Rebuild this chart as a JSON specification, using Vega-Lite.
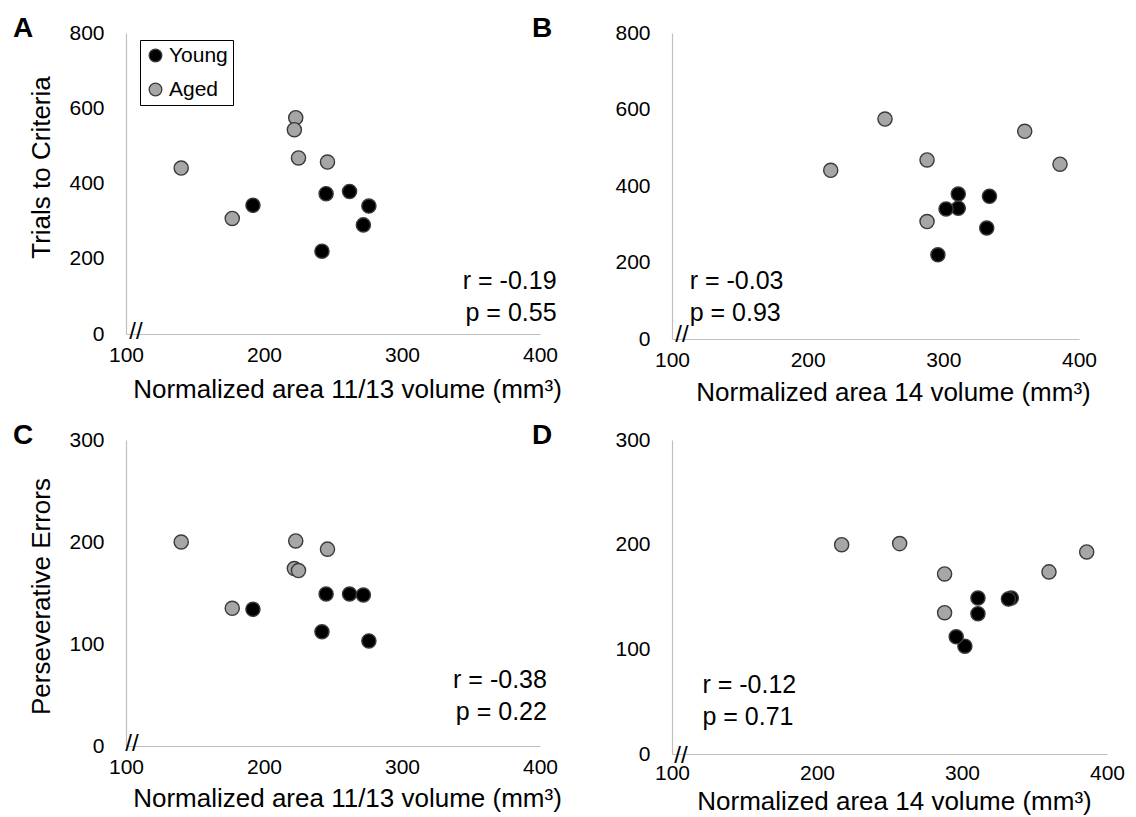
{
  "$schema": "https://vega.github.io/schema/vega-lite/v6.json",
  "background": "white",
  "padding": {"left": 13, "top": 15, "right": 5, "bottom": 5},
  "config": {
    "font": "Liberation Sans",
    "view": {"stroke": null},
    "axis": {"domainColor": "#bfbfbf", "domainWidth": 1.2, "ticks": false, "grid": false, "labelFlush": false, "labelFont": "Liberation Sans", "labelFontSize": 21, "labelColor": "#000000", "titleFont": "Liberation Sans", "titleFontSize": 26, "titleFontWeight": "normal", "titleColor": "#000000"},
    "axisX": {"labelPadding": 10, "titlePadding": 11},
    "axisY": {"labelPadding": 22, "titlePadding": 14},
    "title": {"font": "Liberation Sans", "fontSize": 28, "fontWeight": "bold", "color": "#000000", "anchor": "start", "frame": "group", "baseline": "alphabetic", "offset": 0}
  },
  "datasets": {
    "subjects": [
      {"group": "Aged", "a1113": 140, "a14": 217, "trials": 441, "errors": 200},
      {"group": "Aged", "a1113": 177, "a14": 288, "trials": 307, "errors": 135},
      {"group": "Aged", "a1113": 223, "a14": 257, "trials": 575, "errors": 201},
      {"group": "Aged", "a1113": 222, "a14": 360, "trials": 543, "errors": 174},
      {"group": "Aged", "a1113": 225, "a14": 288, "trials": 468, "errors": 172},
      {"group": "Aged", "a1113": 246, "a14": 386, "trials": 457, "errors": 193},
      {"group": "Young", "a1113": 192, "a14": 311, "trials": 342, "errors": 134},
      {"group": "Young", "a1113": 245, "a14": 334, "trials": 373, "errors": 149},
      {"group": "Young", "a1113": 262, "a14": 311, "trials": 379, "errors": 149},
      {"group": "Young", "a1113": 276, "a14": 302, "trials": 340, "errors": 103},
      {"group": "Young", "a1113": 272, "a14": 332, "trials": 290, "errors": 148},
      {"group": "Young", "a1113": 242, "a14": 296, "trials": 220, "errors": 112}
    ],
    "notes": [
      {"panel": "A", "x": 412, "y": 120, "label": "r = -0.19\np = 0.55"},
      {"panel": "B", "x": 113, "y": 131, "label": "r = -0.03\np = 0.93"},
      {"panel": "C", "x": 405, "y": 57, "label": "r = -0.38\np = 0.22"},
      {"panel": "D", "x": 121, "y": 58, "label": "r = -0.12\np = 0.71"}
    ],
    "breaks": [{"x": 100, "y": 0, "s": "//"}]
  },
  "columns": 2,
  "spacing": {"row": 101, "column": 132},
  "bounds": "flush",
  "align": "each",
  "resolve": {"scale": {"fill": "independent"}, "legend": {"fill": "independent"}},
  "concat": [
    {
      "width": 414, "height": 301,
      "title": {"text": "A", "dx": -113, "dy": 25},
      "layer": [
        {
          "data": {"name": "subjects"},
          "mark": {"type": "point", "filled": true, "size": 200, "stroke": "#3a3a3a", "strokeWidth": 1.4, "opacity": 1},
          "encoding": {
            "x": {"field": "a1113", "type": "quantitative", "scale": {"domain": [100, 400], "nice": false, "zero": false}, "axis": {"values": [100, 200, 300, 400], "title": "Normalized area 11/13 volume (mm³)", "titleX": 221, "titleAlign": "center", "titleAnchor": "start"}},
            "y": {"field": "trials", "type": "quantitative", "scale": {"domain": [0, 800], "nice": false}, "axis": {"values": [0, 200, 400, 600, 800], "title": "Trials to Criteria", "titleY": 134}},
            "fill": {"field": "group", "type": "nominal", "scale": {"domain": ["Young", "Aged"], "range": ["#000000", "#a6a6a6"]},
              "legend": {"orient": "none", "legendX": 14, "legendY": 7, "title": null, "strokeColor": "#000000", "padding": 5, "labelFont": "Liberation Sans", "labelFontSize": 21, "labelColor": "#000000", "symbolSize": 160, "symbolStrokeColor": "#3a3a3a", "symbolStrokeWidth": 1.3, "rowPadding": 12, "labelOffset": 3, "fillColor": "#ffffff"}}
          }
        },
        {
          "data": {"name": "notes"},
          "transform": [{"filter": "datum.panel == 'A'"}],
          "mark": {"type": "text", "align": "right", "baseline": "alphabetic", "fontSize": 25, "lineHeight": 32, "lineBreak": "\n", "color": "#000000"},
          "encoding": {
            "x": {"field": "x", "type": "quantitative", "title": "Normalized area 11/13 volume (mm³)"},
            "y": {"field": "y", "type": "quantitative", "title": "Trials to Criteria"},
            "text": {"field": "label"}
          }
        },
        {
          "data": {"name": "breaks"},
          "mark": {"type": "text", "align": "center", "baseline": "middle", "fontSize": 24, "dx": 10, "dy": -2, "color": "#000000"},
          "encoding": {
            "x": {"field": "x", "type": "quantitative", "title": "Normalized area 11/13 volume (mm³)"},
            "y": {"field": "y", "type": "quantitative", "title": "Trials to Criteria"},
            "text": {"field": "s"}
          }
        }
      ]
    },
    {
      "width": 407, "height": 306,
      "title": {"text": "B", "dx": -140, "dy": 25},
      "layer": [
        {
          "data": {"name": "subjects"},
          "mark": {"type": "point", "filled": true, "size": 200, "stroke": "#3a3a3a", "strokeWidth": 1.4, "opacity": 1},
          "encoding": {
            "x": {"field": "a14", "type": "quantitative", "scale": {"domain": [100, 400], "nice": false, "zero": false}, "axis": {"values": [100, 200, 300, 400], "title": "Normalized area 14 volume (mm³)", "titleX": 221, "titleAlign": "center", "titleAnchor": "start", "titlePadding": 9}},
            "y": {"field": "trials", "type": "quantitative", "scale": {"domain": [0, 800], "nice": false}, "axis": {"values": [0, 200, 400, 600, 800], "title": null}},
            "fill": {"field": "group", "type": "nominal", "scale": {"domain": ["Young", "Aged"], "range": ["#000000", "#a6a6a6"]}, "legend": null}
          }
        },
        {
          "data": {"name": "notes"},
          "transform": [{"filter": "datum.panel == 'B'"}],
          "mark": {"type": "text", "align": "left", "baseline": "alphabetic", "fontSize": 25, "lineHeight": 32, "lineBreak": "\n", "color": "#000000"},
          "encoding": {
            "x": {"field": "x", "type": "quantitative", "title": "Normalized area 14 volume (mm³)"},
            "y": {"field": "y", "type": "quantitative", "title": null},
            "text": {"field": "label"}
          }
        },
        {
          "data": {"name": "breaks"},
          "mark": {"type": "text", "align": "center", "baseline": "middle", "fontSize": 24, "dx": 10, "dy": -4, "color": "#000000"},
          "encoding": {
            "x": {"field": "x", "type": "quantitative", "title": "Normalized area 14 volume (mm³)"},
            "y": {"field": "y", "type": "quantitative", "title": null},
            "text": {"field": "s"}
          }
        }
      ]
    },
    {
      "width": 414, "height": 306,
      "title": {"text": "C", "dx": -113, "dy": 25},
      "layer": [
        {
          "data": {"name": "subjects"},
          "mark": {"type": "point", "filled": true, "size": 200, "stroke": "#3a3a3a", "strokeWidth": 1.4, "opacity": 1},
          "encoding": {
            "x": {"field": "a1113", "type": "quantitative", "scale": {"domain": [100, 400], "nice": false, "zero": false}, "axis": {"values": [100, 200, 300, 400], "title": "Normalized area 11/13 volume (mm³)", "titleX": 221, "titleAlign": "center", "titleAnchor": "start", "titlePadding": 8}},
            "y": {"field": "errors", "type": "quantitative", "scale": {"domain": [0, 300], "nice": false}, "axis": {"values": [0, 100, 200, 300], "title": "Perseverative Errors", "titleY": 156}},
            "fill": {"field": "group", "type": "nominal", "scale": {"domain": ["Young", "Aged"], "range": ["#000000", "#a6a6a6"]}, "legend": null}
          }
        },
        {
          "data": {"name": "notes"},
          "transform": [{"filter": "datum.panel == 'C'"}],
          "mark": {"type": "text", "align": "right", "baseline": "alphabetic", "fontSize": 25, "lineHeight": 32, "lineBreak": "\n", "color": "#000000"},
          "encoding": {
            "x": {"field": "x", "type": "quantitative", "title": "Normalized area 11/13 volume (mm³)"},
            "y": {"field": "y", "type": "quantitative", "title": "Perseverative Errors"},
            "text": {"field": "label"}
          }
        },
        {
          "data": {"name": "breaks"},
          "mark": {"type": "text", "align": "center", "baseline": "middle", "fontSize": 24, "dx": 6, "dy": -2, "color": "#000000"},
          "encoding": {
            "x": {"field": "x", "type": "quantitative", "title": "Normalized area 11/13 volume (mm³)"},
            "y": {"field": "y", "type": "quantitative", "title": "Perseverative Errors"},
            "text": {"field": "s"}
          }
        }
      ]
    },
    {
      "width": 435, "height": 314,
      "title": {"text": "D", "dx": -140, "dy": 25},
      "layer": [
        {
          "data": {"name": "subjects"},
          "mark": {"type": "point", "filled": true, "size": 200, "stroke": "#3a3a3a", "strokeWidth": 1.4, "opacity": 1},
          "encoding": {
            "x": {"field": "a14", "type": "quantitative", "scale": {"domain": [100, 400], "nice": false, "zero": false}, "axis": {"values": [100, 200, 300, 400], "title": "Normalized area 14 volume (mm³)", "titleX": 222, "titleAlign": "center", "titleAnchor": "start", "labelPadding": 8, "titlePadding": 5}},
            "y": {"field": "errors", "type": "quantitative", "scale": {"domain": [0, 300], "nice": false}, "axis": {"values": [0, 100, 200, 300], "title": null}},
            "fill": {"field": "group", "type": "nominal", "scale": {"domain": ["Young", "Aged"], "range": ["#000000", "#a6a6a6"]}, "legend": null}
          }
        },
        {
          "data": {"name": "notes"},
          "transform": [{"filter": "datum.panel == 'D'"}],
          "mark": {"type": "text", "align": "left", "baseline": "alphabetic", "fontSize": 25, "lineHeight": 32, "lineBreak": "\n", "color": "#000000"},
          "encoding": {
            "x": {"field": "x", "type": "quantitative", "title": "Normalized area 14 volume (mm³)"},
            "y": {"field": "y", "type": "quantitative", "title": null},
            "text": {"field": "label"}
          }
        },
        {
          "data": {"name": "breaks"},
          "mark": {"type": "text", "align": "center", "baseline": "middle", "fontSize": 24, "dx": 9, "dy": 2, "color": "#000000"},
          "encoding": {
            "x": {"field": "x", "type": "quantitative", "title": "Normalized area 14 volume (mm³)"},
            "y": {"field": "y", "type": "quantitative", "title": null},
            "text": {"field": "s"}
          }
        }
      ]
    }
  ]
}
